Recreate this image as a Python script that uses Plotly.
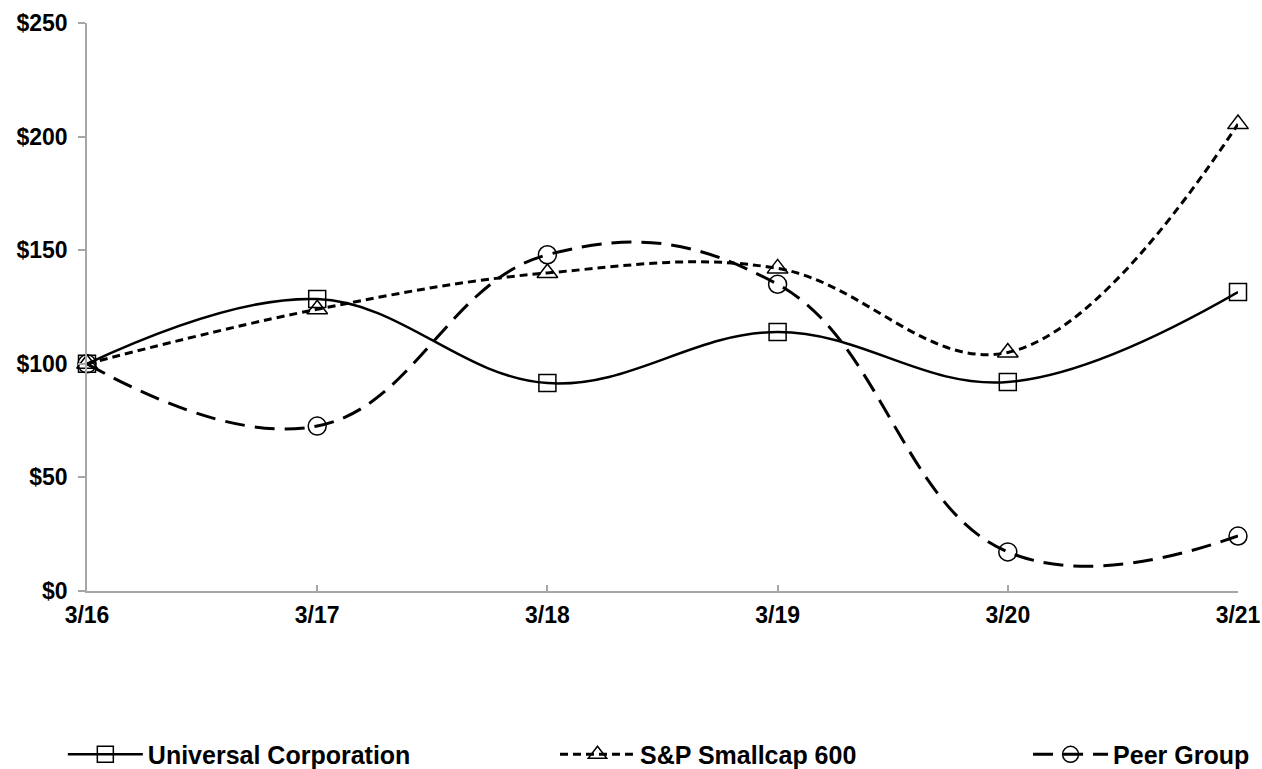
import plotly.graph_objects as go

periods = ["3/16", "3/17", "3/18", "3/19", "3/20", "3/21"]
universal = [100, 128.5, 91.5, 114, 92, 131.6]
sp600 = [100, 124, 140, 142, 105, 205.5]
peer = [100, 72.6, 148, 135, 17.2, 24.2]
y_ticks = [0, 50, 100, 150, 200, 250]
y_labels = ["$0", "$50", "$100", "$150", "$200", "$250"]

xs = list(range(len(periods)))
FAM = "Arial, Liberation Sans, sans-serif"
TICKFONT = dict(family=FAM, size=23, color="black", weight="bold")
LEGFONT = dict(family=FAM, size=25, color="black", weight="bold")

fig = go.Figure()
fig.add_trace(go.Scatter(
    x=xs, y=universal, name="Universal Corporation", mode="lines+markers",
    line=dict(color="black", width=2.5, shape="spline", smoothing=1.1),
    marker=dict(symbol="square-open", size=17, color="black", line=dict(width=1.5)),
    cliponaxis=False, legend="legend", showlegend=True))
fig.add_trace(go.Scatter(
    x=xs, y=sp600, name="S&P Smallcap 600", mode="lines+markers",
    line=dict(color="black", width=3, dash="8px,5px", shape="spline", smoothing=1.1),
    marker=dict(symbol="triangle-up-open", size=18, color="black", line=dict(width=1.5)),
    cliponaxis=False, legend="legend2", showlegend=True))
fig.add_trace(go.Scatter(
    x=xs, y=peer, name="Peer Group", mode="lines+markers",
    line=dict(color="black", width=3, dash="20px,10px", shape="spline", smoothing=1.2),
    marker=dict(symbol="circle-open", size=18, color="black", line=dict(width=1.5)),
    cliponaxis=False, legend="legend3", showlegend=True))

axis_gray = "#A6A6A6"
leg_common = dict(yanchor="middle", xanchor="left", y=-0.288, font=LEGFONT,
                  bgcolor="rgba(0,0,0,0)", itemwidth=75)
fig.update_layout(
    width=1262, height=769,
    showlegend=True,
    margin=dict(l=87, r=24, t=23, b=178, autoexpand=False),
    paper_bgcolor="white", plot_bgcolor="white",
    font=dict(family=FAM, size=22, color="black"),
    xaxis=dict(range=[0, 5], tickvals=xs, ticktext=periods, showgrid=False,
               zeroline=False, showline=True, linecolor=axis_gray, linewidth=1.5,
               ticks="inside", ticklen=6, tickcolor=axis_gray, tickwidth=1.5,
               tickfont=TICKFONT, ticklabelstandoff=3),
    yaxis=dict(range=[0, 250], tickvals=y_ticks, ticktext=y_labels, showgrid=False,
               zeroline=False, showline=True, linecolor=axis_gray, linewidth=1.5,
               ticks="outside", ticklen=7, tickcolor=axis_gray, tickwidth=1.5,
               tickfont=TICKFONT, ticklabelstandoff=6),
    legend=dict(x=-0.021, **leg_common),
    legend2=dict(x=0.4066, **leg_common),
    legend3=dict(x=0.8176, **leg_common),
)

fig.write_html("out.html")
